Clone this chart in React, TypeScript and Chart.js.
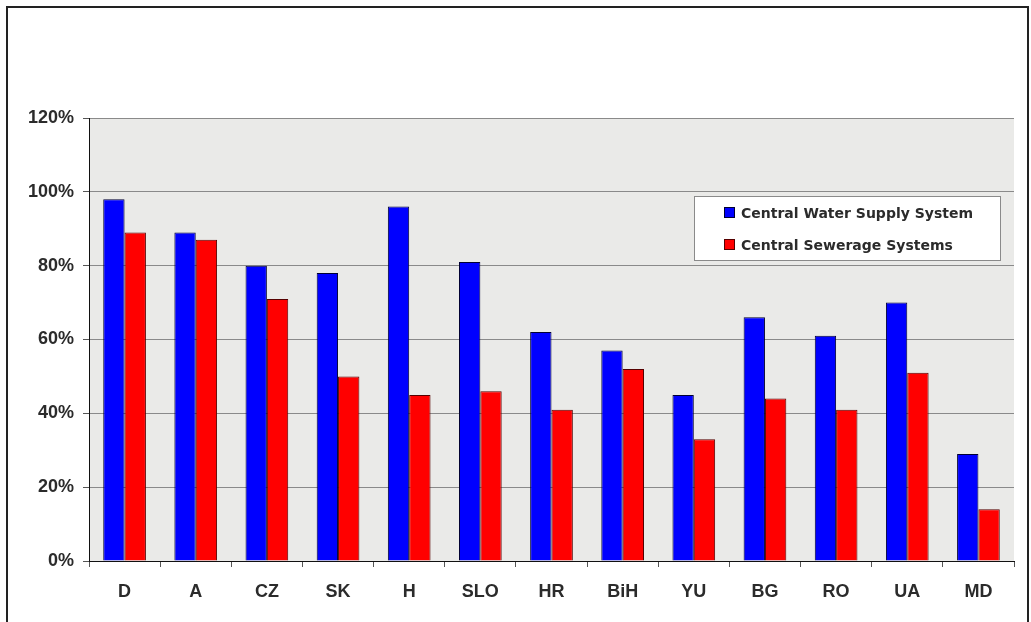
import React, { useEffect, useRef } from "react";
import { Chart, registerables } from "chart.js";

Chart.register(...registerables);

const categories = ["D", "A", "CZ", "SK", "H", "SLO", "HR", "BiH", "YU", "BG", "RO", "UA", "MD"];
const waterSupply = [98, 89, 80, 78, 96, 81, 62, 57, 45, 66, 61, 70, 29];
const sewerage = [89, 87, 71, 50, 45, 46, 41, 52, 33, 44, 41, 51, 14];
const seriesNames = ["Central Water Supply System", "Central Sewerage Systems"];
const yTicks = [0, 20, 40, 60, 80, 100, 120];

const FONT = "'Liberation Sans', Arial, sans-serif";
const LEGEND_FONT = "'DejaVu Sans', 'Liberation Sans', sans-serif";

const framePlugin = {
  id: "frame",
  beforeDraw(chart: any) {
    const { ctx, chartArea } = chart;
    ctx.save();
    ctx.fillStyle = "#ffffff";
    ctx.fillRect(0, 0, chart.width, chart.height);
    ctx.fillStyle = "#eaeae8";
    ctx.fillRect(chartArea.left, chartArea.top, chartArea.right - chartArea.left, chartArea.bottom - chartArea.top);
    ctx.restore();
  },
  afterDraw(chart: any) {
    const { ctx } = chart;
    ctx.save();
    ctx.strokeStyle = "#222222";
    ctx.lineWidth = 2;
    ctx.strokeRect(7, 7, 1021, 700);
    // legend
    const lx = 694, ly = 196, lw = 306, lh = 64;
    ctx.fillStyle = "#ffffff";
    ctx.fillRect(lx, ly, lw, lh);
    ctx.strokeStyle = "#8a8a8a";
    ctx.lineWidth = 1;
    ctx.strokeRect(lx + 0.5, ly + 0.5, lw, lh);
    const items = [
      { name: seriesNames[0], fill: "#0000ff", stroke: "#000033", y: 213 },
      { name: seriesNames[1], fill: "#ff0000", stroke: "#550000", y: 245 },
    ];
    ctx.font = `bold 14px ${LEGEND_FONT}`;
    ctx.textBaseline = "middle";
    ctx.textAlign = "left";
    items.forEach((it) => {
      ctx.fillStyle = it.fill;
      ctx.fillRect(724, it.y - 6, 11, 11);
      ctx.strokeStyle = it.stroke;
      ctx.strokeRect(724.5, it.y - 5.5, 10, 10);
      ctx.fillStyle = "#2b2b2b";
      ctx.fillText(it.name, 741, it.y + 1);
    });
    ctx.restore();
  },
};

export default function App() {
  const ref = useRef<HTMLCanvasElement | null>(null);
  useEffect(() => {
    if (!ref.current) return;
    const chart = new Chart(ref.current, {
      type: "bar",
      data: {
        labels: categories,
        datasets: [
          {
            label: seriesNames[0],
            data: waterSupply,
            backgroundColor: "#0000ff",
            borderColor: "#000033",
            borderWidth: 1,
            categoryPercentage: 0.6,
            barPercentage: 1.0,
          },
          {
            label: seriesNames[1],
            data: sewerage,
            backgroundColor: "#ff0000",
            borderColor: "#550000",
            borderWidth: 1,
            categoryPercentage: 0.6,
            barPercentage: 1.0,
          },
        ],
      },
      options: {
        responsive: false,
        animation: false,
        layout: { padding: { left: 0, top: 118, right: 17, bottom: 21 } },
        plugins: { legend: { display: false }, tooltip: { enabled: false } },
        scales: {
          x: {
            afterFit: (s: any) => { s.height = 40; },
            grid: {
              offset: true,
              drawOnChartArea: false,
              drawTicks: true,
              tickLength: 6,
              tickColor: "#555555",
            },
            border: { display: true, color: "#111111", width: 1 },
            ticks: {
              padding: 14,
              color: "#2b2b2b",
              font: { family: FONT, size: 18, weight: "bold" },
            },
          },
          y: {
            min: 0,
            max: 120,
            afterFit: (s: any) => { s.width = 89; },
            afterBuildTicks: (s: any) => { s.ticks = yTicks.map((v) => ({ value: v })); },
            grid: {
              color: "#8a8a8a",
              lineWidth: 1,
              drawTicks: true,
              tickLength: 6,
              tickColor: "#555555",
            },
            border: { display: true, color: "#111111", width: 1 },
            ticks: {
              padding: 9,
              color: "#2b2b2b",
              font: { family: FONT, size: 18, weight: "bold" },
              callback: (v: any) => `${v}%`,
            },
          },
        },
      },
      plugins: [framePlugin],
    });
    return () => chart.destroy();
  }, []);
  return (
    <div style={{ position: "absolute", left: 0, top: 0, width: 1031, height: 622 }}>
      <canvas ref={ref} width={1031} height={622} style={{ width: 1031, height: 622, display: "block" }} />
    </div>
  );
}
